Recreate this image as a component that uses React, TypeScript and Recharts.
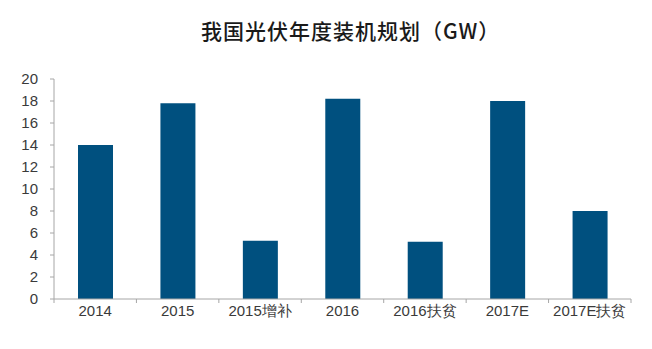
import React from 'react';
import { BarChart, Bar, XAxis, YAxis } from 'recharts';

// 年度カテゴリと装机量 (GW)
const categories = ['2014', '2015', '2015增补', '2016', '2016扶贫', '2017E', '2017E扶贫'];
const capacity = [14.0, 17.8, 5.3, 18.2, 5.2, 18.0, 8.0];
const yTicks = [0, 2, 4, 6, 8, 10, 12, 14, 16, 18, 20];

const data = categories.map((name, i) => ({ name, value: capacity[i] }));

const BAR_COLOR = '#00507f';
const AXIS_COLOR = '#a6a6a6';
const TEXT_COLOR = '#3a3a3a';
const FONT = '"Liberation Sans", Arial, sans-serif';
const X_TICK_MARGIN = 6;
const X_TICK_LEN = 4;

// カテゴリ名 + カテゴリ境界の目盛り線
const CategoryTick = (props: any) => {
    const { x, y, payload, index, visibleTicksCount } = props;
    const half = payload.offset || 0;
    const axisY = y - X_TICK_MARGIN;
    const isLast = index === visibleTicksCount - 1;
    return (
        <g>
            <line x1={x - half} x2={x - half} y1={axisY} y2={axisY + X_TICK_LEN} stroke={AXIS_COLOR} />
            {isLast && (
                <line x1={x + half} x2={x + half} y1={axisY} y2={axisY + X_TICK_LEN} stroke={AXIS_COLOR} />
            )}
            <text x={x} y={y} dy="0.71em" textAnchor="middle" fill={TEXT_COLOR} fontSize={15} fontFamily={FONT}>
                {payload.value}
            </text>
        </g>
    );
};

export default function App() {
    return (
        <div style={{ position: 'fixed', left: 0, top: 0, width: 652, height: 349, background: '#fff' }}>
            <div style={{
                position: 'absolute',
                top: 16,
                left: 201,
                whiteSpace: 'nowrap',
                fontFamily: '"Noto Sans CJK SC", sans-serif',
                fontSize: 21,
                fontWeight: 500,
                letterSpacing: 1,
                lineHeight: '28px',
                color: '#1a1a1a'
            }}>
                我国光伏年度装机规划（GW）
            </div>
            <BarChart
                width={652}
                height={349}
                data={data}
                margin={{ top: 79, right: 21, bottom: 20, left: 0 }}
            >
                <XAxis
                    dataKey="name"
                    height={30}
                    tickLine={false}
                    tickSize={0}
                    tickMargin={X_TICK_MARGIN}
                    axisLine={{ stroke: AXIS_COLOR }}
                    tick={<CategoryTick />}
                    interval={0}
                />
                <YAxis
                    width={54}
                    domain={[0, 20]}
                    ticks={yTicks}
                    interval={0}
                    axisLine={{ stroke: AXIS_COLOR }}
                    tickLine={{ stroke: AXIS_COLOR }}
                    tickSize={4}
                    tickMargin={12}
                    tick={{ fill: TEXT_COLOR, fontSize: 15, fontFamily: FONT }}
                />
                <Bar dataKey="value" fill={BAR_COLOR} barSize={35} isAnimationActive={false} />
            </BarChart>
        </div>
    );
}
